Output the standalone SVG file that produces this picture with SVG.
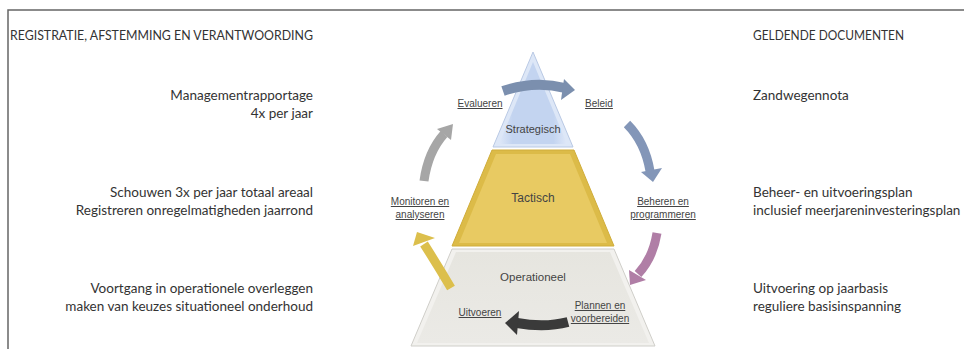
<svg xmlns="http://www.w3.org/2000/svg" width="964" height="349" viewBox="0 0 964 349">
<style>
.t{font-family:Lato,"Open Sans","Liberation Sans",sans-serif;font-size:13.5px;fill:#333}
.h{font-size:12.5px}
.e{text-anchor:end}
.l{font-family:"Liberation Sans",Arial,sans-serif;font-size:10px;fill:#444;text-anchor:middle;text-decoration:underline}
.n{font-family:"Liberation Sans",Arial,sans-serif;fill:#444;text-anchor:middle}
.sh{fill:none;stroke-linecap:butt}
</style>
<defs>
<linearGradient id="gb" x1="0" y1="0" x2="1" y2="0">
<stop offset="0" stop-color="#dfe8f8"/><stop offset="0.2" stop-color="#c3d4f0"/><stop offset="0.8" stop-color="#c3d4f0"/><stop offset="1" stop-color="#dfe8f8"/>
</linearGradient>
<linearGradient id="gg" x1="0" y1="0" x2="0" y2="1">
<stop offset="0" stop-color="#e6e5df"/><stop offset="1" stop-color="#ebeae6"/>
</linearGradient>
</defs>
<rect width="964" height="349" fill="#fff"/>
<g id="frame" stroke="#666" stroke-width="1.5" fill="none">
<path d="M8,349 V10 H964"/>
</g>

<g id="left-texts">
<text class="t h" x="10" y="40" textLength="303" lengthAdjust="spacingAndGlyphs">REGISTRATIE, AFSTEMMING EN VERANTWOORDING</text>
<text class="t e" x="313" y="100">Managementrapportage</text>
<text class="t e" x="313" y="118">4x per jaar</text>
<text class="t e" x="313" y="197">Schouwen 3x per jaar totaal areaal</text>
<text class="t e" x="313" y="215">Registreren onregelmatigheden jaarrond</text>
<text class="t e" x="313" y="293">Voortgang in operationele overleggen</text>
<text class="t e" x="313" y="311">maken van keuzes situationeel onderhoud</text>
</g>
<g id="right-texts">
<text class="t h" x="753" y="40" textLength="151" lengthAdjust="spacingAndGlyphs">GELDENDE DOCUMENTEN</text>
<text class="t" x="753" y="100">Zandwegennota</text>
<text class="t" x="753" y="197">Beheer- en uitvoeringsplan</text>
<text class="t" x="753" y="215">inclusief meerjareninvesteringsplan</text>
<text class="t" x="753" y="293">Uitvoering op jaarbasis</text>
<text class="t" x="753" y="311">reguliere basisinspanning</text>
</g>

<g id="strategisch">
<polygon points="533,52 573,147 493,147" fill="#dde7f7" stroke="#b9c9e4" stroke-width="1"/>
<polygon points="533,62 567,144 499,144" fill="url(#gb)"/>
<text class="n" x="533" y="133" font-size="11">Strategisch</text>
</g>
<g id="tactisch">
<polygon points="492,150 574,150 614,246 452,246" fill="#dcbb48" stroke="#d0ad3a" stroke-width="1"/>
<polygon points="496,154 570,154 607,243 459,243" fill="#e8ca62"/>
<text class="n" x="533" y="202" font-size="12">Tactisch</text>
</g>
<g id="operationeel">
<polygon points="452,249 614,249 655,346 411,346" fill="#f2f1ee" stroke="#cfcec9" stroke-width="1"/>
<polygon points="456,252 610,252 649,343 417,343" fill="url(#gg)"/>
<text class="n" x="533" y="281" font-size="11.5">Operationeel</text>
</g>

<g id="labels">
<text class="l" x="480" y="107">Evalueren</text>
<text class="l" x="599" y="107">Beleid</text>
<text class="l" x="420" y="205">Monitoren en</text>
<text class="l" x="420" y="218">analyseren</text>
<text class="l" x="663" y="205">Beheren en</text>
<text class="l" x="663" y="218">programmeren</text>
<text class="l" x="480" y="316">Uitvoeren</text>
<text class="l" x="600" y="309">Plannen en</text>
<text class="l" x="600" y="322">voorbereiden</text>
</g>

<g id="connectors">
<path class="sh" d="M503,91 Q535,80 565,88" stroke="#7b8fae" stroke-width="10"/>
<polygon points="564,79 575,90 561,100" fill="#7b8fae"/>
<path class="sh" d="M627,124 Q645,142 650,171" stroke="#8396b8" stroke-width="9"/>
<polygon points="641,172 662,168 653,182" fill="#8396b8"/>
<path class="sh" d="M657,233 Q653,258 638,274" stroke="#b07ea6" stroke-width="9"/>
<polygon points="629,270 646,280 630,285" fill="#b07ea6"/>
<path class="sh" d="M568,322 Q545,328 517,323" stroke="#3a3a3a" stroke-width="10"/>
<polygon points="519,311 505,323 517,335" fill="#3a3a3a"/>
<path class="sh" d="M451,288 Q438,266 424,244" stroke="#dcbf4c" stroke-width="9"/>
<polygon points="413,246 435,238 417,232" fill="#dcbf4c"/>
<path class="sh" d="M424,181 Q428,152 444,134" stroke="#a6a6a6" stroke-width="9"/>
<polygon points="437,129 451,140 453,124" fill="#a6a6a6"/>
</g>
</svg>
